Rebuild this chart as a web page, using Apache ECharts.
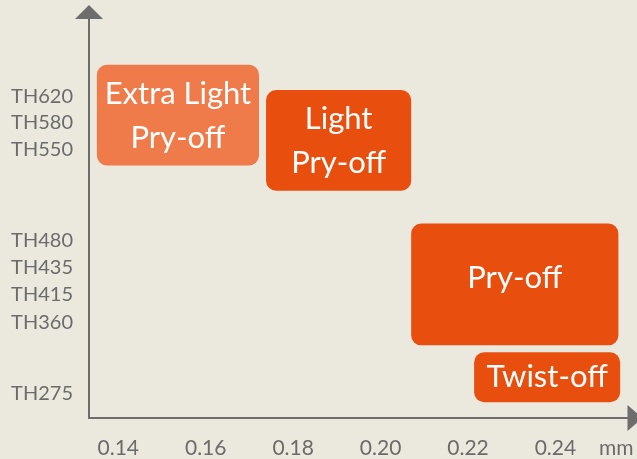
<!DOCTYPE html>
<html>
<head>
<meta charset="utf-8">
<script src="https://cdn.jsdelivr.net/npm/echarts@6/dist/echarts.min.js"></script>
<style>
  html, body { margin: 0; padding: 0; background: #ebe8de; }
  #main { width: 637px; height: 459px; }
</style>
</head>
<body>
<div id="main"></div>
<script>
// lid types and their thickness / size windows
var boxNames = ['Extra Light\nPry-off', 'Light\nPry-off', 'Pry-off', 'Twist-off'];
var xFrom = [0.1351, 0.1738, 0.2070, 0.2214];
var xTo = [0.1722, 0.2070, 0.2544, 0.2548];
var yFrom = [62.2, 56.0, 17.9, 3.9];
var yTo = [87.0, 80.8, 47.9, 16.2];

// y axis tick labels and where they sit on the scale
var yTickNames = ['TH620', 'TH580', 'TH550', 'TH480', 'TH435', 'TH415', 'TH360', 'TH275'];
var yTickValues = [79.1, 72.7, 66.1, 43.7, 37.1, 30.5, 23.6, 6.1];
var xTickValues = [0.14, 0.16, 0.18, 0.20, 0.22, 0.24];

var boxColors = ['#ef7b4b', '#e84e0e', '#e84e0e', '#e84e0e'];
var textOffsets = [[0, 1], [0, 1], [0, -6], [0, 0]];

var data = [];
for (var i = 0; i < boxNames.length; i++) {
    data.push([xFrom[i], xTo[i], yFrom[i], yTo[i], i]);
}

var axisColor = '#6d6d6d';
var labelColor = '#6b6b6b';
var myChart = echarts.init(document.getElementById('main'));

var option = {
    backgroundColor: '#ebe8de',
    animation: false,
    grid: { left: 89, right: 2, top: 12, bottom: 40 },
    xAxis: {
        type: 'value',
        min: 0.1333,
        max: 0.2582,
        name: 'mm',
        nameLocation: 'end',
        nameGap: -36,
        nameTextStyle: {
            color: labelColor,
            fontFamily: 'Lato',
            fontSize: 21,
            verticalAlign: 'top',
            padding: [20, 0, 0, 0]
        },
        splitLine: { show: false },
        axisTick: { show: false },
        axisLine: {
            lineStyle: { color: axisColor, width: 2 },
            symbol: ['none', 'triangle'],
            symbolSize: [26, 15]
        },
        axisLabel: {
            customValues: xTickValues,
            margin: 20,
            color: labelColor,
            fontFamily: 'Lato',
            fontSize: 21,
            formatter: function (v) { return v.toFixed(2); }
        }
    },
    yAxis: {
        type: 'value',
        min: 0,
        max: 100,
        splitLine: { show: false },
        axisTick: { show: false },
        axisLine: {
            lineStyle: { color: axisColor, width: 2 },
            symbol: ['none', 'triangle'],
            symbolSize: [28, 14]
        },
        axisLabel: {
            customValues: yTickValues,
            margin: 16,
            color: labelColor,
            fontFamily: 'Lato',
            fontSize: 20,
            formatter: function (v) {
                var idx = yTickValues.indexOf(v);
                return idx >= 0 ? yTickNames[idx] : '';
            }
        }
    },
    series: [{
        type: 'custom',
        data: data,
        encode: { x: [0, 1], y: [2, 3] },
        renderItem: function (params, api) {
            var idx = api.value(4);
            var topLeft = api.coord([api.value(0), api.value(3)]);
            var bottomRight = api.coord([api.value(1), api.value(2)]);
            return {
                type: 'rect',
                shape: {
                    x: topLeft[0],
                    y: topLeft[1],
                    width: bottomRight[0] - topLeft[0],
                    height: bottomRight[1] - topLeft[1],
                    r: 10
                },
                style: { fill: boxColors[idx] },
                textContent: {
                    style: {
                        text: boxNames[idx],
                        fill: '#ffffff',
                        fontFamily: 'Lato',
                        fontSize: 31,
                        lineHeight: 44,
                        align: 'center'
                    }
                },
                textConfig: { position: 'inside', offset: textOffsets[idx] }
            };
        }
    }]
};

myChart.setOption(option);
</script>
</body>
</html>
